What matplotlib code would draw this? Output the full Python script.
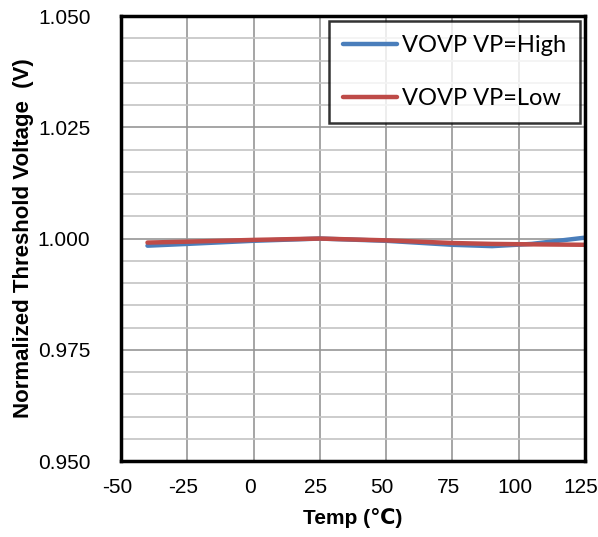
import matplotlib.pyplot as plt
import matplotlib.transforms as mtransforms
from matplotlib.ticker import MultipleLocator

# data
temp = [-40, -25, 0, 25, 50, 75, 90, 105, 125]
vp_high = [0.9984, 0.9988, 0.9995, 1.0000, 0.9995, 0.9986, 0.9983, 0.9988, 1.0002]
vp_low = [0.9991, 0.9993, 0.9997, 1.0000, 0.9996, 0.9990, 0.9988, 0.9987, 0.9986]

x_ticks = [-50, -25, 0, 25, 50, 75, 100, 125]
y_ticks = [0.950, 0.975, 1.000, 1.025, 1.050]

plt.rcParams['font.family'] = ['Liberation Sans', 'DejaVu Sans']
plt.rcParams['axes.unicode_minus'] = False

fig = plt.figure(figsize=(5.98, 5.37), dpi=100)
ax = fig.add_axes([0.2023, 0.1415, 0.7757, 0.8285])

ax.plot(temp, vp_high, color='#4a7ebb', lw=3.2, label='VOVP VP=High', solid_capstyle='round')
ax.plot(temp, vp_low, color='#be4b48', lw=3.2, label='VOVP VP=Low', solid_capstyle='round')

ax.set_xlim(-50, 125)
ax.set_ylim(0.950, 1.050)
ax.set_xticks(x_ticks)
ax.set_yticks(y_ticks)
ax.set_yticklabels([f'{v:.3f}' for v in y_ticks])
ax.yaxis.set_minor_locator(MultipleLocator(0.005))

ax.grid(True, which='major', axis='x', color='#969696', lw=1.2)
ax.grid(True, which='major', axis='y', color='#969696', lw=1.2)
ax.grid(True, which='minor', axis='y', color='#c4c4c4', lw=1.2)
ax.set_axisbelow(True)

ax.tick_params(which='both', length=0, labelsize=15)
ax.tick_params(axis='y', pad=22)
ax.tick_params(axis='x', pad=12)
# labels sit a bit left of their ticks in the reference
shift = mtransforms.ScaledTranslation(-4 / 100, 0, fig.dpi_scale_trans)
for lab in ax.get_xticklabels():
    lab.set_transform(lab.get_transform() + shift)

for s in ax.spines.values():
    s.set_linewidth(2.5)
    s.set_color('black')

ax.set_xlabel('Temp (℃)', fontsize=15, fontweight='bold', labelpad=8)
ax.set_ylabel('Normalized Threshold Voltage  (V)', fontsize=16, fontweight='bold', labelpad=3)

leg = ax.legend(loc='upper right', prop={'family': ['Lato', 'DejaVu Sans'], 'size': 17},
                frameon=True, fancybox=False, edgecolor='black', borderpad=0.6,
                labelspacing=1.35, handlelength=2.3, handletextpad=0.2, borderaxespad=0.2)
leg.get_frame().set_linewidth(1.8)

fig.savefig('out.png', dpi=100)
